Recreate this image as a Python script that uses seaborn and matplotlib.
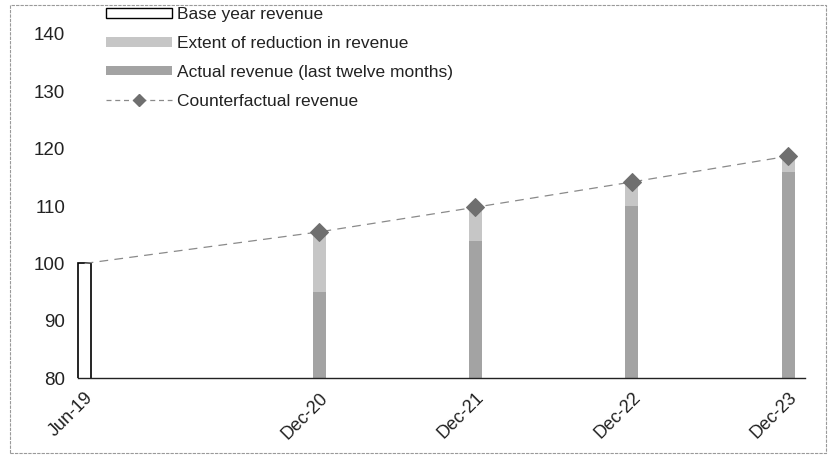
import matplotlib
matplotlib.use("Agg")
import matplotlib.pyplot as plt
import matplotlib.patches as mpatches
import matplotlib.lines as mlines
import seaborn as sns
import pandas as pd

# ---- data ----
periods = ["Jun-19", "Dec-20", "Dec-21", "Dec-22", "Dec-23"]
months = [0, 18, 30, 42, 54]          # months since Jun-19
base_revenue = [100]                  # Jun-19 only
counterfactual = [100, 105.5, 109.8, 114.2, 118.7]
actual_revenue = [95, 104, 110, 116]  # Dec-20 .. Dec-23 (estimated)

sns.set_theme(style="white")
plt.rcParams['font.family'] = ['Liberation Sans', 'DejaVu Sans']

fig = plt.figure(figsize=(8.36, 4.59), dpi=100)
ax = fig.add_axes([0.088, 0.176, 0.875, 0.75])

light = "#c6c6c6"
dark = "#a3a3a3"

# extent of reduction (full bar to counterfactual, light), then actual revenue on top (dark)
sns.barplot(x=months[1:], y=counterfactual[1:], native_scale=True, color=light,
            saturation=1, errorbar=None, width=1 / 12, linewidth=0, ax=ax)
sns.barplot(x=months[1:], y=actual_revenue, native_scale=True, color=dark,
            saturation=1, errorbar=None, width=1 / 12, linewidth=0, ax=ax)
# base year revenue
sns.barplot(x=months[:1], y=base_revenue, native_scale=True, color="white",
            saturation=1, errorbar=None, width=1, edgecolor="black", linewidth=1.2, ax=ax)

# counterfactual revenue line
sns.lineplot(x=months, y=counterfactual, color="#8a8a8a", linewidth=0.9,
             linestyle=(0, (7, 5)), marker="D", markersize=9,
             markerfacecolor="#6f6f6f", markeredgecolor="#6f6f6f",
             markevery=[1, 2, 3, 4], ax=ax)

ax.set_ylim(80, 140)
ax.set_xlim(-0.85, 55.3)
ax.set_yticks([80, 90, 100, 110, 120, 130, 140])
ax.set_xticks(months)
ax.set_xticklabels(periods, rotation=45, ha="right", rotation_mode="anchor")
ax.tick_params(axis="y", labelsize=13.5, pad=6, length=0, colors="#222222")
ax.tick_params(axis="x", labelsize=13, pad=8, length=0, colors="#222222")
ax.set_xlabel("")
ax.set_ylabel("")
for s in ["top", "right", "left"]:
    ax.spines[s].set_visible(False)
ax.spines["bottom"].set_color("#222222")
ax.spines["bottom"].set_linewidth(1.0)
ax.spines["bottom"].set_bounds(-0.5, 55.3)

handles = [
    mpatches.Patch(facecolor="white", edgecolor="black", linewidth=1.0, label="Base year revenue"),
    mpatches.Patch(facecolor=light, edgecolor="none", label="Extent of reduction in revenue"),
    mpatches.Patch(facecolor=dark, edgecolor="none", label="Actual revenue (last twelve months)"),
    mlines.Line2D([], [], color="#8a8a8a", linewidth=0.9, linestyle=(0, (4, 3)), marker="D",
                  markersize=6, markerfacecolor="#6f6f6f", markeredgecolor="#6f6f6f",
                  label="Counterfactual revenue"),
]
leg = ax.legend(handles=handles, loc="upper left", bbox_to_anchor=(0.035, 1.098),
                frameon=False, fontsize=12.5, handlelength=3.8, handleheight=0.45,
                handletextpad=0.3, labelspacing=0.8, borderaxespad=0)
for t in leg.get_texts():
    t.set_color("#222222")

# scanned page border
fig.patches.append(mpatches.Rectangle((0.012, 0.012), 0.976, 0.978, transform=fig.transFigure,
                                      fill=False, edgecolor="#9a9a9a", linewidth=0.8,
                                      linestyle=(0, (3, 1))))

fig.savefig("out.png", dpi=100)
